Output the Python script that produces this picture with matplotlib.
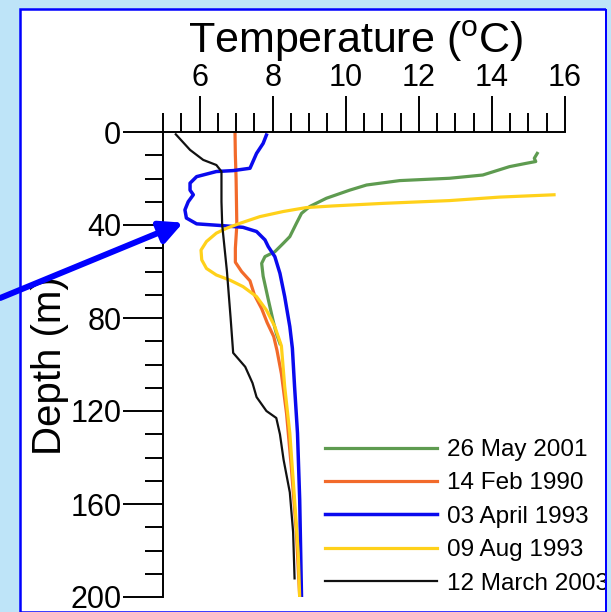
import matplotlib
matplotlib.use('Agg')
import matplotlib.pyplot as plt
from matplotlib.patches import Rectangle
from matplotlib.ticker import MultipleLocator

plt.rcParams['font.family'] = ['Liberation Sans', 'DejaVu Sans']
plt.rcParams['mathtext.fontset'] = 'custom'
plt.rcParams['mathtext.rm'] = 'Liberation Sans'

# profiles: temperature (C) vs depth (m)
may2001_depth = [9.2, 11.3, 12.7, 13.5, 14.9, 18.5, 19.9, 20.9, 22.8, 25, 28.5, 32, 35, 39.3,
                 45, 47.9, 51.5, 53.6, 56.5, 62, 72, 81, 86.6, 91]
may2001_temp = [15.24, 15.16, 15.2, 14.93, 14.48, 13.75, 12.84, 11.48, 10.57, 10.11, 9.47, 9.02,
                8.79, 8.65, 8.47, 8.29, 8.06, 7.79, 7.7, 7.74, 7.88, 8.01, 8.1, 8.2]

feb1990_depth = [0, 10, 20, 30, 40, 50, 56, 60, 64, 70, 76, 82, 88, 94, 104, 121, 144, 172, 200]
feb1990_temp = [6.97, 6.98, 7.0, 7.01, 7.02, 6.98, 6.98, 7.15, 7.38, 7.5, 7.7, 7.85, 8.03, 8.12,
                8.24, 8.38, 8.51, 8.65, 8.74]

apr1993_depth = [1.3, 4.9, 9.2, 14.2, 15.6, 16.6, 17, 19.2, 22, 25, 27, 30, 33.5, 37, 39.5, 40.3,
                 41, 42.8, 46.4, 49.3, 53.6, 60.8, 70.8, 83.7, 93, 109.5, 129.5, 158, 200]
apr1993_temp = [7.83, 7.74, 7.56, 7.42, 7.38, 6.92, 6.46, 5.92, 5.74, 5.74, 5.83, 5.69, 5.6, 5.64,
                5.92, 6.65, 7.19, 7.56, 7.79, 7.88, 8.06, 8.2, 8.33, 8.47, 8.54, 8.6, 8.68, 8.74, 8.79]

aug1993_depth = [27, 28, 29.5, 30.7, 31.8, 32.5, 34.2, 36.4, 39.3, 41.4, 43.5, 47.1, 50.8, 55,
                 58.7, 61.5, 63.7, 66.5, 70.8, 76.6, 83.7, 92, 109.5, 129.5, 158, 181, 200]
aug1993_temp = [15.7, 14.21, 12.84, 11.02, 9.65, 8.92, 8.29, 7.65, 7.1, 6.74, 6.46, 6.19, 6.04,
                6.06, 6.19, 6.46, 6.83, 7.19, 7.56, 7.83, 8.06, 8.24, 8.33, 8.47, 8.6, 8.7, 8.74]

mar2003_depth = [1, 7.7, 12, 14.2, 17, 30, 40, 60, 80, 95, 101, 108, 114, 120, 123, 130, 141,
                 155, 172, 192]
mar2003_temp = [5.35, 5.74, 6.1, 6.46, 6.6, 6.6, 6.62, 6.75, 6.85, 6.92, 7.25, 7.45, 7.56, 7.83,
                8.1, 8.2, 8.3, 8.47, 8.56, 8.6]

labels = ['26 May 2001', '14 Feb 1990', '03 April 1993', '09 Aug 1993', '12 March 2003']
colors = ['#5E9B50', '#F26A2A', '#0A0AEE', '#FFD11A', '#111111']
widths = [2.3, 2.3, 2.5, 2.3, 1.6]

profiles = [(may2001_temp, may2001_depth), (feb1990_temp, feb1990_depth),
            (apr1993_temp, apr1993_depth), (aug1993_temp, aug1993_depth),
            (mar2003_temp, mar2003_depth)]

fig = plt.figure(figsize=(6.11, 6.12), dpi=100)
fig.patch.set_facecolor('#BEE4F8')
# white panel with blue frame
fig.add_artist(Rectangle((20 / 611, 0), 586 / 611, 1 - 9 / 612, transform=fig.transFigure,
                         facecolor='white', edgecolor='#0000FF', lw=1.8, zorder=-1))

ax = fig.add_axes([163 / 611, 1 - 597 / 612, 402 / 611, 465 / 612])
ax.patch.set_alpha(0)

for (t, d), lab, c, w in zip(profiles, labels, colors, widths):
    ax.plot(t, d, color=c, lw=w, label=lab)

ax.set_xlim(5, 16)
ax.set_ylim(200, 0)
ax.xaxis.tick_top()
ax.xaxis.set_minor_locator(MultipleLocator(0.5))
ax.yaxis.set_major_locator(MultipleLocator(40))
ax.yaxis.set_minor_locator(MultipleLocator(10))
ax.set_xticks([6, 8, 10, 12, 14, 16])

for s in ['right', 'bottom']:
    ax.spines[s].set_visible(False)
for s in ['top', 'left']:
    ax.spines[s].set_linewidth(1.4)

ax.tick_params(axis='x', which='major', direction='out', length=26, width=1.4, pad=2, labelsize=22)
ax.tick_params(axis='x', which='minor', direction='out', length=13.5, width=1.4)
ax.tick_params(axis='y', which='major', direction='out', length=29, width=1.4, pad=1, labelsize=22)
ax.tick_params(axis='y', which='minor', direction='out', length=13, width=1.4)

ax.xaxis.set_label_position('top')
ax.set_xlabel('Temperature ($^{\\mathrm{o}}$C)', fontsize=31, va='baseline')
ax.xaxis.set_label_coords((356 - 163) / 402, 1 + (132 - 53) / 465)
ax.set_ylabel('Depth (m)', fontsize=29, va='center')
ax.yaxis.set_label_coords((50 - 163) / 402, 1 - (366 - 132) / 465)

ax.legend(loc='upper left', bbox_to_anchor=(325 / 611, 1 - 439 / 612),
          bbox_transform=fig.transFigure, frameon=False, fontsize=17.5,
          handlelength=4.6, handletextpad=0.4, labelspacing=0.47, borderpad=0,
          borderaxespad=0)

# arrow pointing at the blue minimum
ax.annotate('', xy=(5.55, 39), xytext=(5 - 163 / 36.6, (298 - 132) / 2.325),
            arrowprops=dict(arrowstyle='-|>', color='#0000FF', lw=4.3, mutation_scale=34,
                            shrinkA=0, shrinkB=0),
            annotation_clip=False)

# strip to the right of the frame covers the cut legend text
fig.add_artist(Rectangle((606 / 611, 0), 5 / 611, 1, transform=fig.transFigure,
                         facecolor='#BEE4F8', edgecolor='none', zorder=10))
fig.add_artist(Rectangle((605 / 611, 0), 1.8 / 611, 1 - 9 / 612, transform=fig.transFigure,
                         facecolor='#0000FF', edgecolor='none', zorder=10))

fig.savefig('out.png', dpi=100)
